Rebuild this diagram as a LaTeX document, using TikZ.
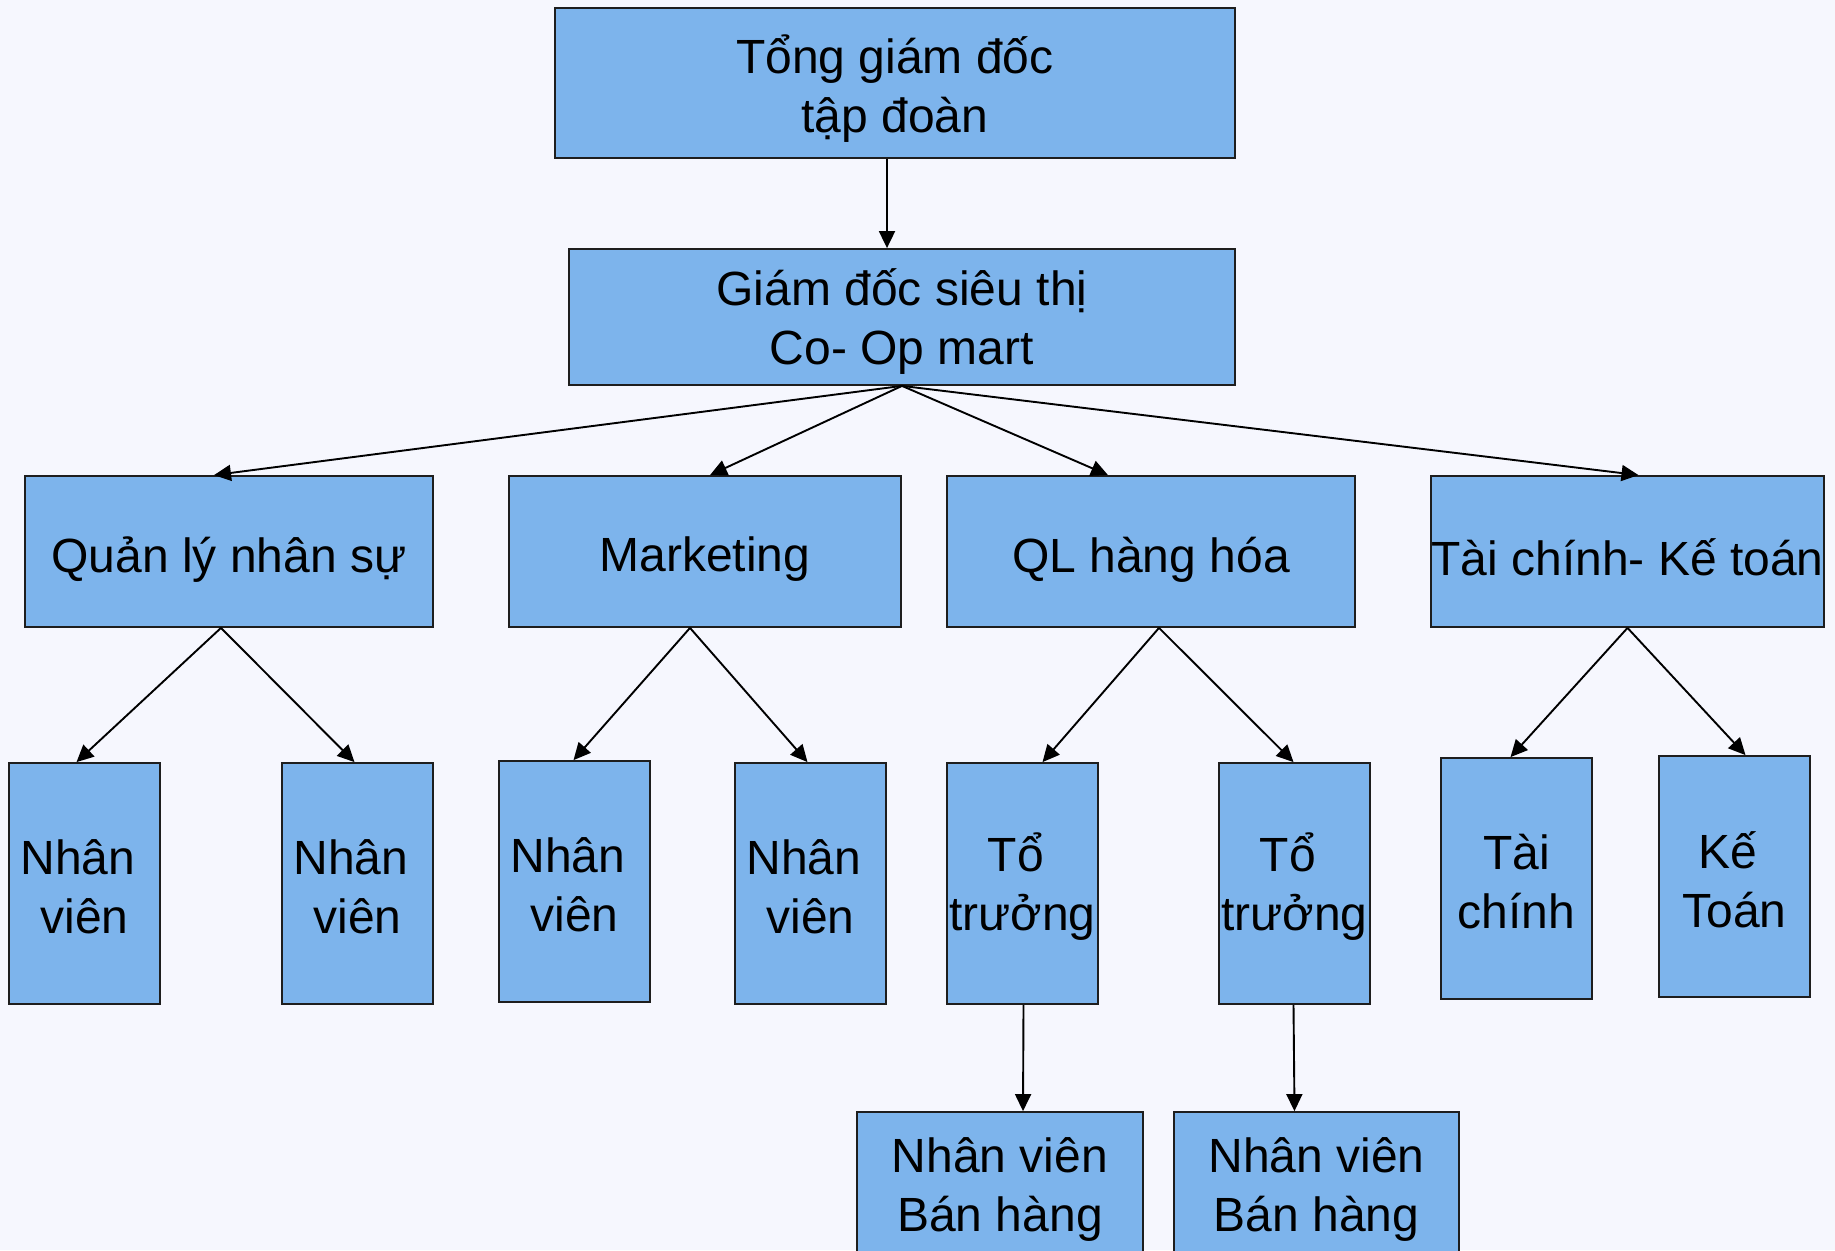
\documentclass[tikz,border=0pt]{standalone}
\usepackage{fontspec}
\setmainfont{Liberation Sans}
\usetikzlibrary{arrows.meta}
\definecolor{pagebg}{RGB}{246,247,254}
\definecolor{boxfill}{RGB}{125,180,236}
\definecolor{boxline}{RGB}{30,30,30}
% box given by its corners: [text drop], name, x1, y1, x2, y2, text
\newcommand\orgbox[7][4]{%
  \node[orgbox, minimum width={(#5-#3)*1pt}, minimum height={(#6-#4)*1pt}] (#2) at ({(#3+#5)/2},{(#4+#6)/2}) {};
  \node[orgtext] (#2-t) at ([yshift=-#1pt]#2.center) {#7};}
% trailing word space kept at a line end
\newcommand\tsp{\hspace*{0.278em}}
\begin{document}
\begin{tikzpicture}[x=1pt,y=-1pt,
  orgbox/.style={draw=boxline, fill=boxfill, line width=1.8pt, inner sep=0pt},
  orgtext/.style={inner sep=0pt, align=center, font=\fontsize{48}{59}\selectfont},
  link/.style={draw=black, line width=1.9pt, -{Triangle[length=17pt,width=16pt]}}]
\useasboundingbox (0,0) rectangle (1835,1250);
\fill[pagebg] (0,0) rectangle (1835,1250);
\clip (0,0) rectangle (1835,1250);

% top levels
\orgbox[6]{tgd}{555}{8}{1235}{158}{Tổng giám đốc\\tập đoàn}
\orgbox[5]{gd}{569}{249}{1235}{385}{Giám đốc siêu thị\\Co- Op mart}

% departments
\orgbox[8]{qlns}{25}{476}{433}{627}{Quản lý nhân sự}
\orgbox[8]{mkt}{509}{476}{901}{627}{Marketing}
\orgbox[8]{qlhh}{947}{476}{1355}{627}{QL hàng hóa}
\orgbox[6]{tckt}{1431}{476}{1824}{627}{Tài chính- Kế toán}

% staff
\orgbox[3]{nv1}{9}{763}{160}{1004}{Nhân\tsp\\viên}
\orgbox[3]{nv2}{282}{763}{433}{1004}{Nhân\tsp\\viên}
\orgbox[3]{nv3}{499}{761}{650}{1002}{Nhân\tsp\\viên}
\orgbox[3]{nv4}{735}{763}{886}{1004}{Nhân\tsp\\viên}
\orgbox[3]{tt1}{947}{763}{1098}{1004}{Tổ\tsp\\trưởng}
\orgbox[3]{tt2}{1219}{763}{1370}{1004}{Tổ\tsp\\trưởng}
\orgbox[3]{tc}{1441}{758}{1592}{999}{Tài\\chính}
\orgbox[3]{kt}{1659}{756}{1810}{997}{Kế\tsp\\Toán}

% sales staff
\orgbox[3]{bh1}{857}{1112}{1143}{1260}{Nhân viên\\Bán hàng}
\orgbox[3]{bh2}{1174}{1112}{1459}{1260}{Nhân viên\\Bán hàng}

% connectors
\draw[link] ([xshift=-8pt]tgd.south) -- ([xshift=-15pt]gd.north);
\draw[link] (gd.south) -- ([xshift=-15pt]qlns.north);
\draw[link] (gd.south) -- ([xshift=5pt]mkt.north);
\draw[link] (gd.south) -- ([xshift=-43pt]qlhh.north);
\draw[link] (gd.south) -- ([xshift=11pt]tckt.north);

\draw[link] ([xshift=-8pt]qlns.south) -- ([xshift=-8pt]nv1.north);
\draw[link] ([xshift=-8pt]qlns.south) -- ([xshift=-3pt]nv2.north);
\draw[link] ([xshift=-15pt]mkt.south) -- ([xshift=-1pt]nv3.north);
\draw[link] ([xshift=-15pt]mkt.south) -- ([xshift=-3pt]nv4.north);
\draw[link] ([xshift=8pt]qlhh.south) -- ([xshift=20pt]tt1.north);
\draw[link] ([xshift=8pt]qlhh.south) -- ([xshift=-1pt]tt2.north);
\draw[link] (tckt.south) -- ([xshift=-6pt]tc.north);
\draw[link] (tckt.south) -- ([xshift=11pt]kt.north);

\draw[link] ([xshift=1pt]tt1.south) -- ([xshift=23pt]bh1.north);
\draw[link] ([xshift=-1pt]tt2.south) -- ([xshift=-22pt]bh2.north);
\end{tikzpicture}
\end{document}
